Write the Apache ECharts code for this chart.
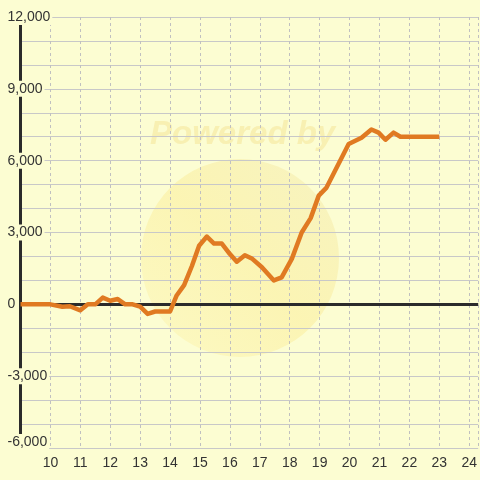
<!DOCTYPE html>
<html>
<head>
<meta charset="utf-8">
<script src="https://cdn.jsdelivr.net/npm/echarts@6/dist/echarts.min.js"></script>
<style>
html,body{margin:0;padding:0;background:#fcfdd2;}
#chart{width:480px;height:480px;}
</style>
</head>
<body>
<div id="chart"></div>
<script>
// Data
var xValues = [9.0, 10.0, 10.4, 10.65, 11.0, 11.25, 11.5, 11.75, 12.0, 12.25, 12.5, 12.75, 13.0, 13.25, 13.5, 14.0, 14.22, 14.47, 14.73, 14.97, 15.23, 15.47, 15.73, 16.0, 16.23, 16.5, 16.75, 17.07, 17.47, 17.73, 18.07, 18.4, 18.7, 18.97, 19.23, 19.97, 20.4, 20.73, 20.97, 21.2, 21.47, 21.7, 23.0];
var yValues = [0, 0, -100, -80, -250, 0, 0, 280, 150, 220, 0, 0, -100, -400, -300, -300, 370, 800, 1600, 2450, 2830, 2540, 2540, 2100, 1780, 2050, 1900, 1550, 1000, 1125, 1900, 3000, 3600, 4540, 4875, 6700, 6960, 7300, 7170, 6875, 7170, 7000, 7000];
var xTickLabels = ['10','11','12','13','14','15','16','17','18','19','20','21','22','23','24'];
var yTickLabels = ['-6,000','-3,000','0','3,000','6,000','9,000','12,000'];

var seriesData = xValues.map(function(x, i){ return [x, yValues[i]]; });

var chart = echarts.init(document.getElementById('chart'));
var labelFont = { color: '#333333', fontSize: 14, fontFamily: 'Liberation Sans' };

chart.setOption({
  backgroundColor: '#fcfdd2',
  animation: false,
  graphic: [
    { type: 'circle', z: -10, shape: { cx: 240, cy: 258, r: 99 },
      style: { fill: {
        type: 'linear', x: 0, y: 1, x2: 1, y2: 0,
        colorStops: [
          { offset: 0, color: 'rgba(252,240,160,0.30)' },
          { offset: 0.5, color: 'rgba(250,225,110,0.30)' },
          { offset: 1, color: 'rgba(235,220,150,0.30)' }
        ] } } },
    { type: 'text', z: -10, x: 150, y: 118,
      style: { text: 'Powered by', fill: 'rgba(240,215,120,0.35)',
               font: 'italic bold 33px "Liberation Sans", Arial, sans-serif' } }
  ],
  grid: { left: 20.5, right: 0, top: 17, bottom: 32 },
  xAxis: {
    type: 'value', min: 9, max: 24.3, interval: 1,
    axisLine: { show: false },
    axisTick: { show: false },
    axisLabel: Object.assign({
      margin: 8, showMinLabel: false, showMaxLabel: false,
      formatter: function(v){ var i = Math.round(v) - 10; return (i >= 0 && i < xTickLabels.length && Math.abs(v - Math.round(v)) < 1e-6) ? xTickLabels[i] : ''; }
    }, labelFont),
    splitLine: { show: true, lineStyle: { color: '#c0c0c0', type: [3, 3], width: 1 } }
  },
  yAxis: {
    type: 'value', min: -6000, max: 12000, interval: 1000,
    axisLine: { show: true, lineStyle: { color: '#2b2b2b', width: 3 } },
    axisTick: { show: false },
    axisLabel: Object.assign({
      margin: 13, align: 'left',
      backgroundColor: '#fcfdd2', padding: [1, 2, 1, 0],
      formatter: function(v){
        if (v % 3000 !== 0) return '';
        var i = (v + 6000) / 3000;
        return i === 0 ? '{b|' + yTickLabels[i] + '}' : yTickLabels[i];
      },
      rich: { b: { fontSize: 14, fontFamily: 'Liberation Sans', color: '#333333', padding: [0, 0, 12, 0] } }
    }, labelFont),
    splitLine: { show: true, lineStyle: { color: '#c8c8c8', width: 1 } }
  },
  series: [{
    type: 'line', data: [], z: 2,
    markLine: {
      silent: true, symbol: 'none', label: { show: false },
      lineStyle: { color: '#2b2b2b', width: 3, type: 'solid' },
      data: [{ yAxis: 0 }]
    }
  }, {
    type: 'line', data: seriesData,
    showSymbol: false, symbol: 'none',
    lineStyle: { color: '#e07a22', width: 4.5, join: 'round' },
    z: 5
  }]
});
</script>
</body>
</html>
